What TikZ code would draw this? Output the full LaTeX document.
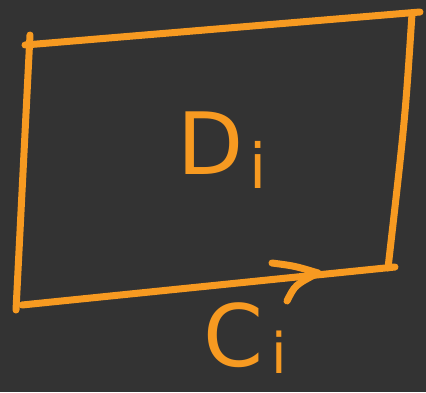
\documentclass[tikz,border=0pt]{standalone}
\usepackage{fontspec}
\setsansfont{DejaVu Sans}
\usetikzlibrary{positioning}
\definecolor{board}{HTML}{333333}
\definecolor{chalk}{HTML}{F79A21}

\begin{document}
\begin{tikzpicture}[
  x=1pt, y=-1pt,
  stroke/.style={draw=chalk, line width=7pt, line cap=round, line join=round},
  hand/.style={text=chalk, font=\sffamily\fontsize{86}{100}\selectfont, inner sep=0pt},
]
  \fill[board] (0,0) rectangle (426,392);
  \useasboundingbox (0,0) rectangle (426,392);

  % region edges
  \draw[stroke] (30,35) -- (16,310);
  \draw[stroke] (25,45) -- (420,12);
  \draw[stroke] (412,14) .. controls (405,120) .. (388,268);
  \draw[stroke] (22,305) -- (395,267);

  % orientation of the boundary
  \coordinate (tip) at (318,273);
  \draw[stroke] (272,263) .. controls (295,266) .. (tip);
  \draw[stroke] (287,301) .. controls (295,285) .. (tip);

  \node[hand] (region) at (222,150) {D\hspace{6pt}\raisebox{-0.3ex}{\fontsize{62}{70}\selectfont i}};
  \node[hand] (boundary) at (245,338) {C\hspace{8pt}\raisebox{-0.15ex}{\fontsize{56}{70}\selectfont i}};
\end{tikzpicture}
\end{document}
